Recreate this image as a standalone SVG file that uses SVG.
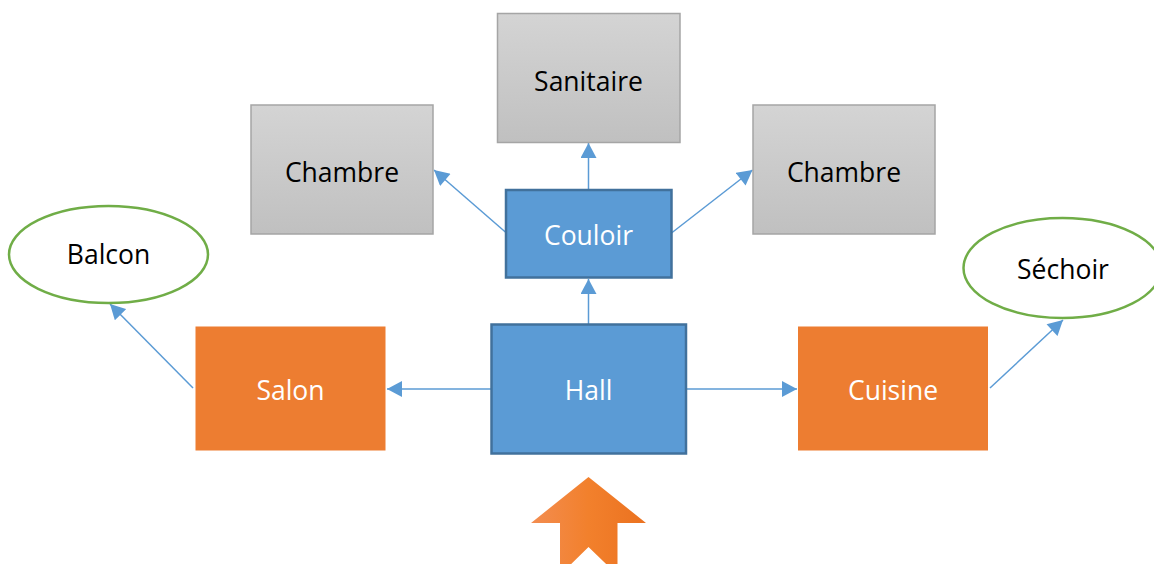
<svg xmlns="http://www.w3.org/2000/svg" width="1154" height="564" viewBox="0 0 1154 564">
<defs>
<linearGradient id="gray" x1="0" y1="0" x2="0" y2="1">
<stop offset="0" stop-color="#D4D4D4"/>
<stop offset="1" stop-color="#C0C0C0"/>
</linearGradient>
<linearGradient id="org" x1="0" y1="0" x2="1" y2="0">
<stop offset="0" stop-color="#F38D50"/>
<stop offset="0.5" stop-color="#F2802C"/>
<stop offset="1" stop-color="#EB7220"/>
</linearGradient>
<marker id="ah" markerUnits="userSpaceOnUse" markerWidth="16" markerHeight="16" viewBox="0 0 15 16" refX="15" refY="8" orient="auto">
<path d="M0,0 L15,8 L0,16 Z" fill="#5B9BD5"/>
</marker>
</defs>
<style>
.gray{fill:url(#gray);stroke:#A5A5A5;stroke-width:1.5}
.blue{fill:#5B9BD5;stroke:#41719C;stroke-width:2.5}
.orange{fill:#ED7D31}
.ell{fill:#FFFFFF;stroke:#70AD47;stroke-width:2.5}
text{font-family:"Open Sans","Liberation Sans",sans-serif;font-size:26.5px;text-anchor:middle}
.dk{fill:#000000}
.wt{fill:#FFFFFF}
.conn line{stroke:#5B9BD5;stroke-width:1.5;marker-end:url(#ah)}
</style>
<rect width="1154" height="564" fill="#FFFFFF"/>
<g id="connectors" class="conn">
<line x1="588.5" y1="324" x2="588.5" y2="279"/>
<line x1="588.5" y1="190" x2="588.5" y2="143"/>
<line x1="506.5" y1="233" x2="434" y2="170"/>
<line x1="671.5" y1="233" x2="752.5" y2="170"/>
<line x1="491" y1="389" x2="387" y2="389"/>
<line x1="686.5" y1="389" x2="797" y2="389"/>
<line x1="193" y1="388" x2="110" y2="304"/>
<line x1="990" y1="388" x2="1063" y2="320"/>
</g>
<g id="sanitaire">
<rect class="gray" x="497.5" y="13.5" width="182.5" height="129"/>
<text class="dk" x="588.5" y="90.5">Sanitaire</text>
</g>
<g id="chambre-left">
<rect class="gray" x="251" y="105" width="182" height="129"/>
<text class="dk" x="342" y="181.5">Chambre</text>
</g>
<g id="chambre-right">
<rect class="gray" x="753" y="105" width="182" height="129"/>
<text class="dk" x="844" y="181.5">Chambre</text>
</g>
<g id="couloir">
<rect class="blue" x="506" y="190" width="165.5" height="87.5"/>
<text class="wt" x="588.5" y="245">Couloir</text>
</g>
<g id="hall">
<rect class="blue" x="491.5" y="324.5" width="194.5" height="129"/>
<text class="wt" x="588.5" y="400">Hall</text>
</g>
<g id="salon">
<rect class="orange" x="195.5" y="326.5" width="190" height="124"/>
<text class="wt" x="290.5" y="400">Salon</text>
</g>
<g id="cuisine">
<rect class="orange" x="798" y="326.5" width="190" height="124"/>
<text class="wt" x="893" y="400">Cuisine</text>
</g>
<g id="balcon">
<ellipse class="ell" cx="108.5" cy="254.5" rx="99.5" ry="48.5"/>
<text class="dk" x="108.5" y="264">Balcon</text>
</g>
<g id="sechoir">
<ellipse class="ell" cx="1062.5" cy="268" rx="99" ry="50"/>
<text class="dk" x="1063" y="279">Séchoir</text>
</g>
<g id="entry-arrow">
<polygon points="588.5,477 646,523 617.5,523 617.5,575 588.5,547 560,575 560,523 531,523" fill="url(#org)"/>
</g>
</svg>
